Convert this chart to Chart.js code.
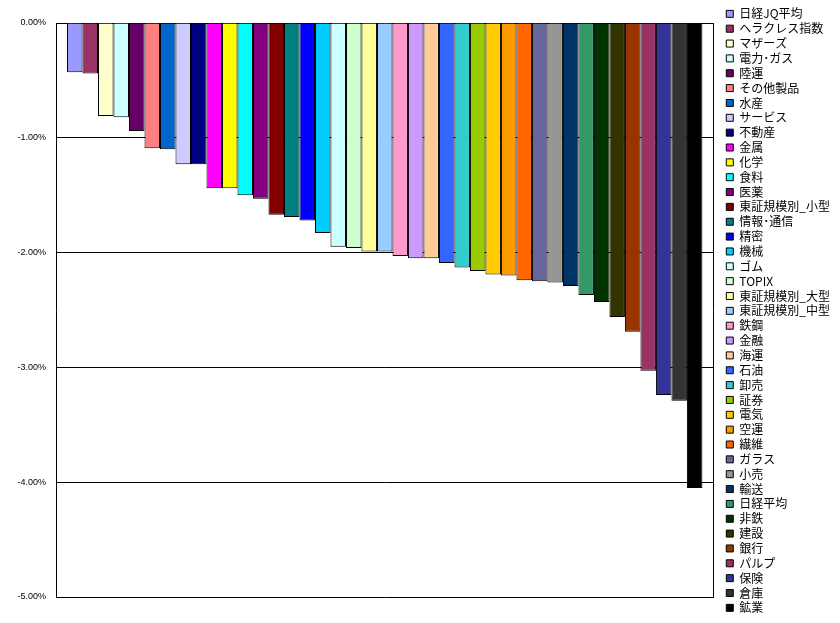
<!DOCTYPE html>
<html>
<head>
<meta charset="utf-8">
<script src="https://cdn.jsdelivr.net/npm/chart.js@4/dist/chart.umd.min.js"></script>
<style>
  body { margin: 0; background: #fff; }
</style>
</head>
<body>
<canvas id="chart" width="840" height="623"></canvas>
<script>
// 騰落率 (%)
const names = [
  "日経JQ平均", "ヘラクレス指数", "マザーズ", "電力･ガス", "陸運", "その他製品", "水産", "サービス",
  "不動産", "金属", "化学", "食料", "医薬", "東証規模別_小型", "情報･通信", "精密", "機械",
  "ゴム", "TOPIX", "東証規模別_大型", "東証規模別_中型", "鉄鋼", "金融", "海運", "石油", "卸売",
  "証券", "電気", "空運", "繊維", "ガラス", "小売", "輸送", "日経平均", "非鉄", "建設", "銀行",
  "パルプ", "保険", "倉庫", "鉱業"
];
const values = [
  -0.43, -0.44, -0.81, -0.82, -0.94, -1.09, -1.10, -1.23,
  -1.23, -1.44, -1.44, -1.50, -1.53, -1.67, -1.69, -1.72, -1.83,
  -1.95, -1.96, -1.99, -1.99, -2.03, -2.05, -2.05, -2.09, -2.13,
  -2.16, -2.19, -2.20, -2.24, -2.25, -2.26, -2.29, -2.37, -2.43, -2.56, -2.69,
  -3.03, -3.24, -3.29, -4.05
];
const colors = [
  "#9999FF", "#993366", "#FFFFCC", "#CCFFFF", "#660066", "#FF8080", "#0066CC", "#CCCCFF",
  "#000080", "#FF00FF", "#FFFF00", "#00FFFF", "#800080", "#800000", "#008080", "#0000FF", "#00CCFF",
  "#CCFFFF", "#CCFFCC", "#FFFF99", "#99CCFF", "#FF99CC", "#CC99FF", "#FFCC99", "#3366FF", "#33CCCC",
  "#99CC00", "#FFCC00", "#FF9900", "#FF6600", "#666699", "#969696", "#003366", "#339966", "#003300",
  "#333300", "#993300", "#993366", "#333399", "#333333", "#000000"
];
const yMin = -5;
const yMax = 0;
const yStep = 1;

const datasets = names.map((name, i) => ({
  label: name,
  data: [values[i]],
  backgroundColor: colors[i],
  borderColor: "#000",
  borderWidth: 1,
  categoryPercentage: 0.9665,
  barPercentage: 1
}));

new Chart(document.getElementById("chart"), {
  type: "bar",
  data: { labels: [""], datasets },
  options: {
    responsive: false,
    animation: false,
    layout: { padding: { top: 5, right: 0, left: 0, bottom: 0 } },
    plugins: {
      tooltip: { enabled: false },
      legend: {
        position: "right",
        align: "start",
        labels: {
          color: "#000",
          font: { family: '"Noto Sans CJK JP"', size: 12 },
          boxWidth: 7,
          boxHeight: 7,
          padding: 2.85
        }
      }
    },
    scales: {
      x: {
        ticks: { display: false },
        grid: { display: false },
        border: { display: false },
        afterFit: s => { s.height = 26; }
      },
      xTop: {
        type: "category",
        position: "top",
        ticks: { display: false },
        grid: { display: false },
        border: { display: false },
        afterFit: s => { s.height = 18; }
      },
      y: {
        min: yMin,
        max: yMax,
        ticks: {
          stepSize: yStep,
          padding: 10,
          color: "#000",
          font: { family: "Liberation Sans", size: 9 },
          callback: v => v.toFixed(2) + "%"
        },
        grid: { color: "#000", drawTicks: false },
        border: { color: "#000" },
        afterFit: s => { s.width = 56; }
      },
      yRight: {
        type: "linear",
        position: "right",
        ticks: { display: false },
        grid: { display: false },
        border: { color: "#000" },
        afterFit: s => { s.width = 10; }
      }
    }
  }
});
</script>
</body>
</html>
